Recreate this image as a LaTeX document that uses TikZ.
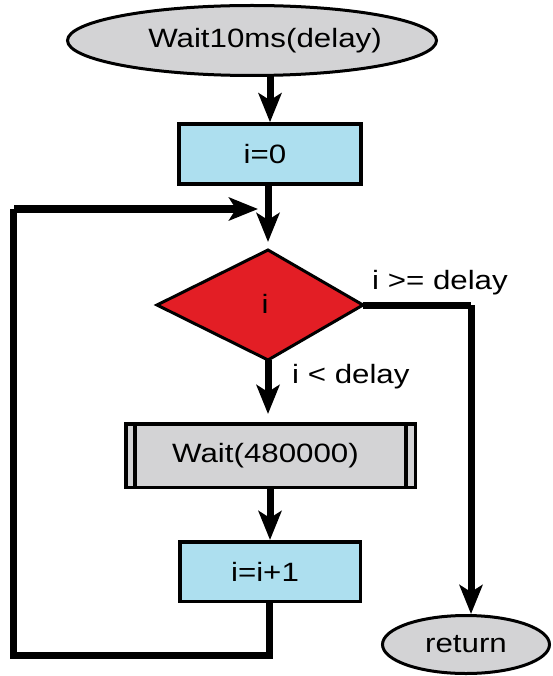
\documentclass[tikz,border=0pt]{standalone}
\usepackage{fontspec}
\setmainfont{Liberation Sans}[FakeStretch=1.18]
\usetikzlibrary{shapes.geometric,arrows.meta,calc}
\definecolor{boxblue}{RGB}{173,223,239}
\definecolor{boxgray}{RGB}{211,211,213}
\definecolor{decred}{RGB}{227,30,37}
\begin{document}
\begin{tikzpicture}[x=1pt,y=-1pt,
  every node/.style={font=\fontsize{26.5}{31}\selectfont, inner sep=0pt},
  term/.style={ellipse, draw=black, line width=3pt, fill=boxgray},
  procbox/.style={rectangle, draw=black, line width=3.5pt, fill=boxblue},
  subbox/.style={rectangle, draw=black, line width=3.5pt, fill=boxgray},
  conn/.style={line width=7pt, draw=black},
  arr/.style={conn, -{Stealth[length=29pt,width=23pt,inset=7pt]}},
  lbl/.style={anchor=base west}
]
\useasboundingbox (0,0) rectangle (552,676);

% nodes
\node[term, minimum width=369pt, minimum height=70pt] (start) at (252,40.5) {\hspace*{26pt}Wait10ms(delay)};
\node[procbox, minimum width=182pt, minimum height=60pt] (i0) at (270,154) {\hspace*{-10pt}i=0};

% decision diamond
\coordinate (dt) at (268,250);
\coordinate (dr) at (363,305);
\coordinate (db) at (268,360);
\coordinate (dl) at (157,305);
\filldraw[fill=decred, draw=black, line width=3pt, line join=miter] (dt) -- (dr) -- (db) -- (dl) -- cycle;
\node (dec) at (265,304) {i};

\node[subbox, minimum width=289.5pt, minimum height=63.5pt] (wait) at (270.5,455.5) {\hspace*{-10pt}Wait(480000)};
\draw[line width=3.5pt] ([xshift=11pt]wait.north west) -- ([xshift=11pt]wait.south west)
                        ([xshift=-11pt]wait.north east) -- ([xshift=-11pt]wait.south east);
\node[procbox, minimum width=180.5pt, minimum height=59.5pt] (inc) at (270,571.5) {\hspace*{-10pt}i=i+1};
\node[term, minimum width=167pt, minimum height=58pt] (ret) at (466,644.5) {return};

% labels
\node[lbl] (lge) at (372,289) {i >= delay};
\node[lbl] (llt) at (292,383) {i < delay};

% coordinates for connectors
\coordinate (merge) at (269,209);
\coordinate (lbr) at (269,655.5);
\coordinate (lbl) at (13,655.5);
\coordinate (ltl) at (13,209);
\coordinate (rc) at (471,305);

% connectors
\draw[arr] (i0.north |- start.south) -- (i0.north);
\draw[arr, shorten >=8pt] (i0.south -| dt) -- (dt);
\draw[conn] (inc.south -| lbr) -- (lbr) -- (lbl) -- (ltl) -- (merge -| 13,0);
\draw[arr, shorten >=11pt] (14,209) -- (merge);
\draw[arr, shorten >=8pt] (db) -- (db |- wait.north);
\draw[arr] (wait.south -| inc.north) -- (inc.north);
\draw[conn] (dr) -- (rc);
\draw[arr] (rc) -- (rc |- ret.north);
\end{tikzpicture}
\end{document}
